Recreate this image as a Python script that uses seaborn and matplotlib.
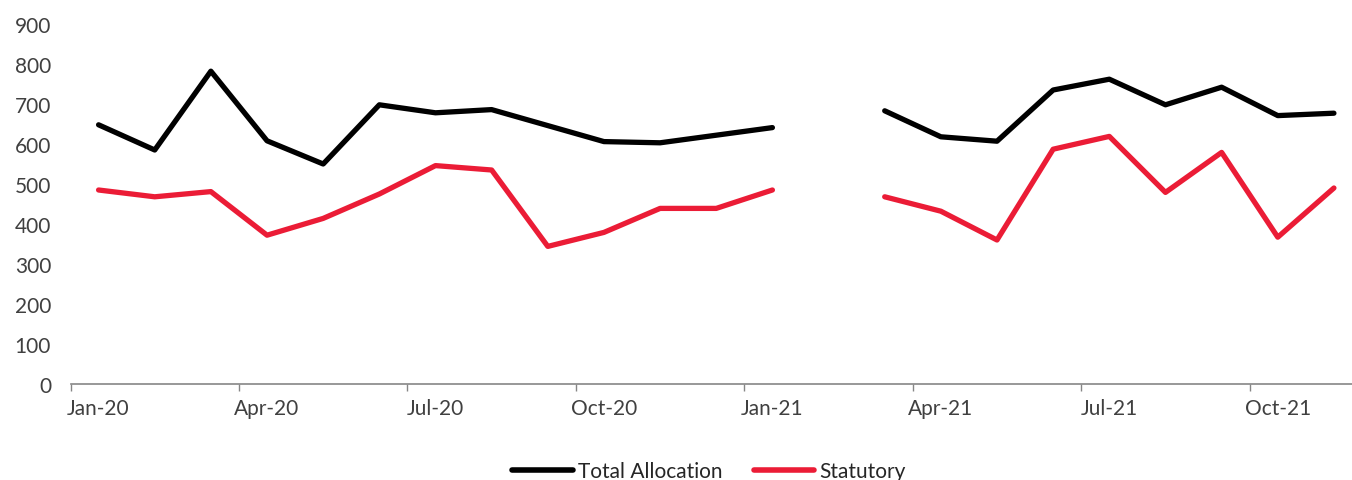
import numpy as np
import pandas as pd
import seaborn as sns
import matplotlib.pyplot as plt

months = ['Jan-20', 'Feb-20', 'Mar-20', 'Apr-20', 'May-20', 'Jun-20', 'Jul-20',
          'Aug-20', 'Sep-20', 'Oct-20', 'Nov-20', 'Dec-20', 'Jan-21', 'Feb-21',
          'Mar-21', 'Apr-21', 'May-21', 'Jun-21', 'Jul-21', 'Aug-21', 'Sep-21',
          'Oct-21', 'Nov-21']
total_allocation = [648, 585, 782, 608, 550, 698, 678, 686, 646, 606, 603, 622, 641,
                    np.nan, 683, 618, 607, 735, 762, 698, 742, 671, 677]
statutory = [485, 468, 481, 372, 414, 475, 546, 535, 344, 379, 439, 439, 485,
             np.nan, 468, 432, 360, 587, 619, 479, 579, 367, 490]
tick_labels = ['Jan-20', 'Apr-20', 'Jul-20', 'Oct-20', 'Jan-21', 'Apr-21', 'Jul-21', 'Oct-21']

n = len(months)
pos = np.arange(n)
# split into segments at the missing month so the line breaks there
seg = np.cumsum(np.isnan(np.array(total_allocation, dtype=float)))
df = pd.concat([
    pd.DataFrame({'x': pos, 'value': total_allocation, 'series': 'Total Allocation', 'seg': seg}),
    pd.DataFrame({'x': pos, 'value': statutory, 'series': 'Statutory', 'seg': seg}),
]).dropna()

sns.set_theme(style='white')
plt.rcParams['font.family'] = ['Lato', 'DejaVu Sans']

fig = plt.figure(figsize=(13.52, 4.81), dpi=100)
ax = fig.add_axes([70.5 / 1352, 96 / 481, (1362 - 70.5) / 1352, 360 / 481])

sns.lineplot(data=df, x='x', y='value', hue='series', units='seg', estimator=None,
             palette={'Total Allocation': '#000000', 'Statutory': '#EB1C36'},
             linewidth=3.8, ax=ax, legend=False)

ax.set_xlim(-0.5, n - 0.5)
ax.set_ylim(0, 900)
ax.set_yticks(range(0, 901, 100))
ax.tick_params(axis='y', length=0, pad=14, labelsize=15, labelcolor='#404040')

ax.set_xticks(np.arange(-0.5, n, 3))
ax.set_xticklabels([])
ax.set_xticks(np.arange(0, n, 3), minor=True)
ax.set_xticklabels(tick_labels, minor=True)
ax.tick_params(axis='x', which='major', length=5, width=1, color='#868686', direction='out', bottom=True)
ax.tick_params(axis='x', which='minor', length=0, pad=10, labelsize=15, labelcolor='#404040')
ax.set(xlabel='', ylabel='')

for side in ['left', 'top', 'right']:
    ax.spines[side].set_visible(False)
ax.spines['bottom'].set_color('#868686')
ax.spines['bottom'].set_linewidth(1.2)

handles = [plt.Line2D([], [], color='#000000', lw=4), plt.Line2D([], [], color='#EB1C36', lw=4)]
fig.legend(handles, ['Total Allocation', 'Statutory'], loc='center', ncol=2,
           bbox_to_anchor=(709 / 1352, 1 - 472 / 481), frameon=False,
           fontsize=15, handlelength=2.9, handletextpad=0.25, columnspacing=1.5)

fig.savefig('out.png', dpi=100)
